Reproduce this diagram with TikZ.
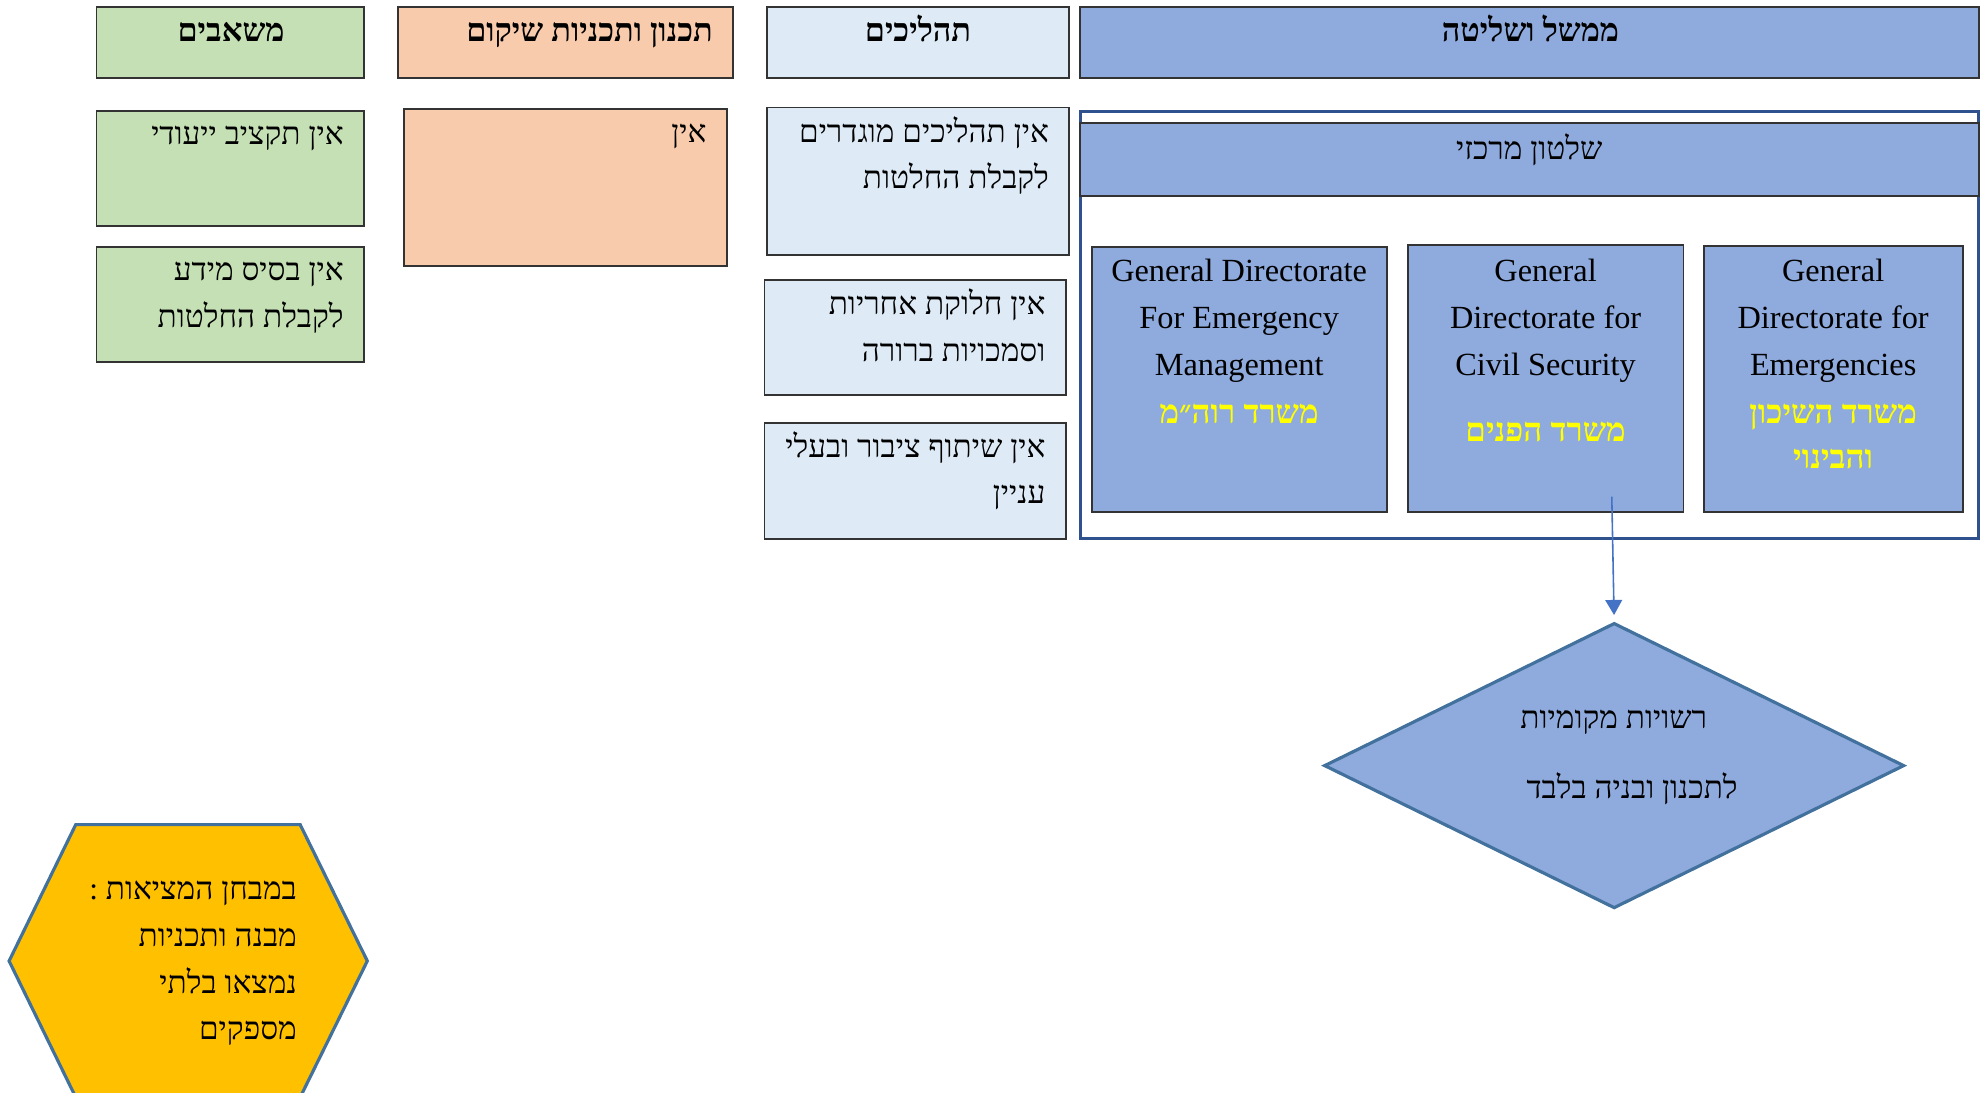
\documentclass[tikz,border=0pt]{standalone}
\usepackage{fontspec}
\setmainfont{Liberation Serif}
\newfontfamily\heb[Script=Hebrew]{Liberation Serif}
\TeXXeTstate=1
\usetikzlibrary{shapes.geometric,arrows.meta}

\definecolor{resgreen}{HTML}{C5E0B4}
\definecolor{planorange}{HTML}{F8CBAD}
\definecolor{proclight}{HTML}{DEEBF7}
\definecolor{govblue}{HTML}{8FAADC}
\definecolor{frameblue}{HTML}{2F528F}
\definecolor{shapeline}{HTML}{41719C}
\definecolor{arrowblue}{HTML}{4472C4}
\definecolor{hexgold}{HTML}{FFC000}
\definecolor{ministry}{HTML}{FFFF00}

% right-to-left line
\newcommand\RL[1]{\beginR #1\endR}
\newcommand\unitlen{0.012628cm}
% named rectangle given by its corners: name, x1, y1, x2, y2, style
\newcommand\rbox[6]{%
  \node[#6, minimum width={(#4-#2)*\unitlen}, minimum height={(#5-#3)*\unitlen}]
    (#1) at ({(#2+#4)/2},{(#3+#5)/2}) {};}

\begin{document}
\begin{tikzpicture}[x=0.012628cm, y=-0.012628cm,
  box/.style={draw=black!80, line width=0.55pt, inner sep=0pt},
  hebtxt/.style={font=\heb\fontsize{8.95}{12}\selectfont, inner sep=0pt},
  hebbold/.style={font=\heb\bfseries\fontsize{9.2}{12}\selectfont, inner sep=0pt},
  entxt/.style={font=\fontsize{9.2}{12}\selectfont, inner sep=0pt},
  ministrytxt/.style={font=\heb\bfseries\fontsize{9.4}{12}\selectfont, inner sep=0pt, text=ministry},
]
\useasboundingbox (0,0) rectangle (1568,865);

% column headers
\rbox{hres}{76.4}{5.6}{288.5}{61.7}{box, fill=resgreen}
\rbox{hplan}{315.2}{5.6}{580.3}{61.7}{box, fill=planorange}
\rbox{hproc}{607.5}{5.6}{846.4}{61.7}{box, fill=proclight}
\rbox{hgov}{855.6}{5.6}{1567}{61.7}{box, fill=govblue}
\node[hebbold, anchor=base] (thres) at (183,32.5) {\RL{משאבים}};
\node[hebbold, anchor=base east] (thplan) at (565,32.5) {\RL{תכנון ותכניות שיקום}};
\node[hebbold, anchor=base] (thproc) at (727,32.5) {\RL{תהליכים}};
\node[hebbold, anchor=base] (thgov) at (1212,32.5) {\RL{ממשל ושליטה}};

% resources
\rbox{res1}{76.4}{88.2}{288.5}{178.7}{box, fill=resgreen}
\rbox{res2}{76.4}{195.4}{288.5}{286.8}{box, fill=resgreen}
\node[hebtxt, anchor=base east] (tres1) at (272.7,114.5) {\RL{אין תקציב ייעודי}};
\node[hebtxt, anchor=base east] (tres2a) at (272.7,222) {\RL{אין בסיס מידע}};
\node[hebtxt, anchor=base east] (tres2b) at (272.7,259) {\RL{לקבלת החלטות}};

% planning
\rbox{plan1}{319.6}{86.5}{575.9}{210.7}{box, fill=planorange}
\node[hebtxt, anchor=base east] (tplan1) at (560.1,113) {\RL{אין}};

% processes
\rbox{proc1}{607.5}{85.1}{846.4}{201.9}{box, fill=proclight}
\rbox{proc2}{605.4}{221.4}{844.2}{312.8}{box, fill=proclight}
\rbox{proc3}{605.4}{335.1}{844.2}{426.5}{box, fill=proclight}
\node[hebtxt, anchor=base east] (tproc1a) at (831.2,113) {\RL{אין תהליכים מוגדרים}};
\node[hebtxt, anchor=base east] (tproc1b) at (831.2,149) {\RL{לקבלת החלטות}};
\node[hebtxt, anchor=base east] (tproc2a) at (828.4,249) {\RL{אין חלוקת אחריות}};
\node[hebtxt, anchor=base east] (tproc2b) at (828.4,286) {\RL{וסמכויות ברורה}};
\node[hebtxt, anchor=base east] (tproc3a) at (828.4,362) {\RL{אין שיתוף ציבור ובעלי}};
\node[hebtxt, anchor=base east] (tproc3b) at (828.4,399) {\RL{עניין}};

% central government frame
\rbox{govframe}{855.6}{88.2}{1567}{426.5}{draw=frameblue, line width=1pt, inner sep=0pt}
\rbox{central}{855.6}{97.5}{1567}{155}{box, fill=govblue}
\node[hebtxt, anchor=base] (tcentral) at (1211,126) {\RL{שלטון מרכזי}};

\rbox{dir1}{864.4}{195.7}{1098.3}{405.3}{box, fill=govblue}
\rbox{dir2}{1114.8}{194.3}{1333.2}{405.3}{box, fill=govblue}
\rbox{dir3}{1349.2}{195}{1554.2}{405.3}{box, fill=govblue}

\node[entxt, anchor=base] (td1a) at (981.3,223) {General Directorate};
\node[entxt, anchor=base] (td1b) at (981.3,260) {For Emergency};
\node[entxt, anchor=base] (td1c) at (981.3,297) {Management};
\node[ministrytxt, anchor=base] (td1d) at (981.3,335) {\RL{משרד רוה״מ}};

\node[entxt, anchor=base] (td2a) at (1224,223) {General};
\node[entxt, anchor=base] (td2b) at (1224,260) {Directorate for};
\node[entxt, anchor=base] (td2c) at (1224,297) {Civil Security};
\node[ministrytxt, anchor=base] (td2d) at (1224,350) {\RL{משרד הפנים}};

\node[entxt, anchor=base] (td3a) at (1451.7,223) {General};
\node[entxt, anchor=base] (td3b) at (1451.7,260) {Directorate for};
\node[entxt, anchor=base] (td3c) at (1451.7,297) {Emergencies};
\node[ministrytxt, anchor=base] (td3d) at (1451.7,335) {\RL{משרד השיכון}};
\node[ministrytxt, anchor=base] (td3e) at (1451.7,371) {\RL{והבינוי}};

% local authorities
\node[diamond, draw=shapeline, fill=govblue, line width=0.9pt, inner sep=0pt,
      minimum width={459.5*\unitlen}, minimum height={226*\unitlen}] (local) at (1278.3,606.3) {};
\node[hebtxt, anchor=base] (tlocala) at (1278,576.6) {\RL{רשויות מקומיות}};
\node[hebtxt, anchor=base] (tlocalb) at (1292.5,632) {\RL{לתכנון ובניה בלבד}};

\coordinate (arrfrom) at (1276.4,393.3);
\draw[arrowblue, line width=0.45pt, shorten >=5*\unitlen,
      -{Triangle[length=4.3pt, width=4.8pt]}] (arrfrom) -- (local.north);

% reality check hexagon
\draw[fill=hexgold, draw=shapeline, line width=0.9pt]
  (60,653) -- (237.7,653) -- (290.9,761) -- (237.7,869) -- (60,869) -- (7.2,761) -- cycle;
\node[hebtxt, anchor=base east] (thexa) at (235.6,712.5) {\RL{במבחן המציאות :}};
\node[hebtxt, anchor=base east] (thexb) at (235.6,749.5) {\RL{מבנה ותכניות}};
\node[hebtxt, anchor=base east] (thexc) at (235.6,786.5) {\RL{נמצאו בלתי}};
\node[hebtxt, anchor=base east] (thexd) at (235.6,823.5) {\RL{מספקים}};
\end{tikzpicture}
\end{document}
